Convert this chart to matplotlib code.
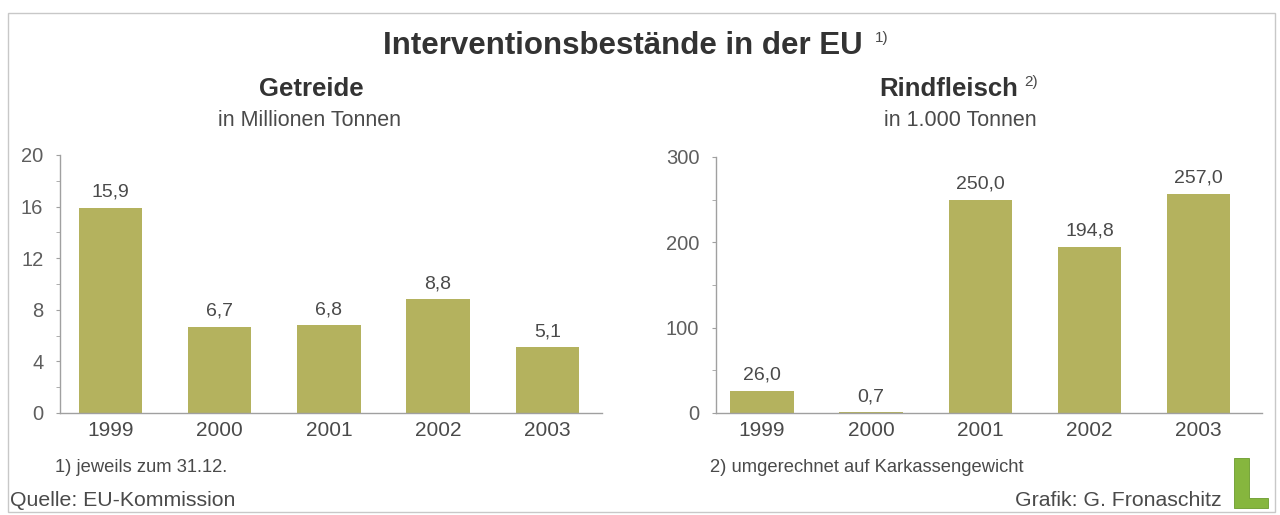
import matplotlib
matplotlib.use("Agg")
import matplotlib.pyplot as plt
from matplotlib.patches import Rectangle, Polygon
from matplotlib.ticker import MultipleLocator

plt.rcParams["font.family"] = ["Liberation Sans", "DejaVu Sans"]

# data
years = ["1999", "2000", "2001", "2002", "2003"]
getreide = [15.9, 6.7, 6.8, 8.8, 5.1]
getreide_labels = ["15,9", "6,7", "6,8", "8,8", "5,1"]
rind = [26.0, 0.7, 250.0, 194.8, 257.0]
rind_labels = ["26,0", "0,7", "250,0", "194,8", "257,0"]

BAR = "#b4b25e"
TXT = "#4a4a4a"
TICK = "#5e5e5e"
AXIS = "#a0a0a0"

fig = plt.figure(figsize=(12.8, 5.15), dpi=100)
W, H = 1280, 515


def px(x, y):
    return x / W, 1 - y / H


# thin frame around the graphic
fig.add_artist(Rectangle(px(8, 512), (1275 - 8) / W, (512 - 13) / H,
                         transform=fig.transFigure, fill=False,
                         edgecolor="#c8c8c8", lw=1.0))


def bar_panel(rect, values, labels, ylim, major, minor, xlim):
    ax = fig.add_axes(rect)
    x = range(len(values))
    ax.bar(x, values, width=0.58, color=BAR, zorder=2)
    for xi, v, lab in zip(x, values, labels):
        ax.annotate(lab, (xi, v), xytext=(0, 5), textcoords="offset points",
                    ha="center", va="bottom", fontsize=14, color=TXT)
    ax.set_xlim(*xlim)
    ax.set_ylim(*ylim)
    ax.set_xticks(list(x))
    ax.set_xticklabels(years)
    ax.yaxis.set_major_locator(MultipleLocator(major))
    ax.yaxis.set_minor_locator(MultipleLocator(minor))
    for s in ("top", "right"):
        ax.spines[s].set_visible(False)
    for s in ("left", "bottom"):
        ax.spines[s].set_color(AXIS)
        ax.spines[s].set_linewidth(1.0)
    ax.tick_params(axis="x", length=0, pad=6, labelsize=15, labelcolor=TXT)
    ax.tick_params(axis="y", which="major", length=3, color=AXIS, pad=9,
                   labelsize=14.5, labelcolor=TICK)
    ax.tick_params(axis="y", which="minor", length=3, color=AXIS)
    ax.patch.set_alpha(0)
    return ax


bar_panel([60 / W, 1 - 413 / H, 542 / W, (413 - 155) / H],
          getreide, getreide_labels, (0, 20), 4, 2, (-0.46, 4.5))
bar_panel([716 / W, 1 - 413 / H, 546 / W, (413 - 157) / H],
          rind, rind_labels, (0, 300), 100, 50, (-0.42, 4.58))

# titles
fig.text(*px(623, 46), "Interventionsbestände in der EU", ha="center",
         va="center", fontsize=22.5, fontweight="bold", color="#333333")
fig.text(*px(875, 38), "1)", ha="left", va="center", fontsize=11, color=TXT)
fig.text(*px(311, 89), "Getreide", ha="center", va="center", fontsize=18.5,
         fontweight="bold", color="#333333")
fig.text(*px(310, 121), "in Millionen Tonnen", ha="center", va="center",
         fontsize=15.5, color=TXT)
fig.text(*px(949, 89), "Rindfleisch", ha="center", va="center", fontsize=18.5,
         fontweight="bold", color="#333333")
fig.text(*px(1024, 82), "2)", ha="left", va="center", fontsize=11, color=TXT)
fig.text(*px(960, 121), "in 1.000 Tonnen", ha="center", va="center",
         fontsize=15.5, color=TXT)

# footnotes and credits
fig.text(*px(55, 467), "1) jeweils zum 31.12.", ha="left", va="center",
         fontsize=13.2, color=TXT)
fig.text(*px(710, 467), "2) umgerechnet auf Karkassengewicht", ha="left",
         va="center", fontsize=13.2, color=TXT)
fig.text(*px(10, 501), "Quelle: EU-Kommission", ha="left", va="center",
         fontsize=15.3, color=TXT)
fig.text(*px(1222, 500), "Grafik: G. Fronaschitz", ha="right", va="center",
         fontsize=15.3, color=TXT)

# green "L" logo
logo = [(1234, 458), (1249, 458), (1249, 498), (1268, 498), (1268, 508),
        (1234, 508)]
fig.add_artist(Polygon([px(x, y) for x, y in logo], closed=True,
                       transform=fig.transFigure, facecolor="#86b63e",
                       edgecolor="#6a9b2c", lw=0.6))

fig.savefig("out.png", dpi=100, facecolor="white")
